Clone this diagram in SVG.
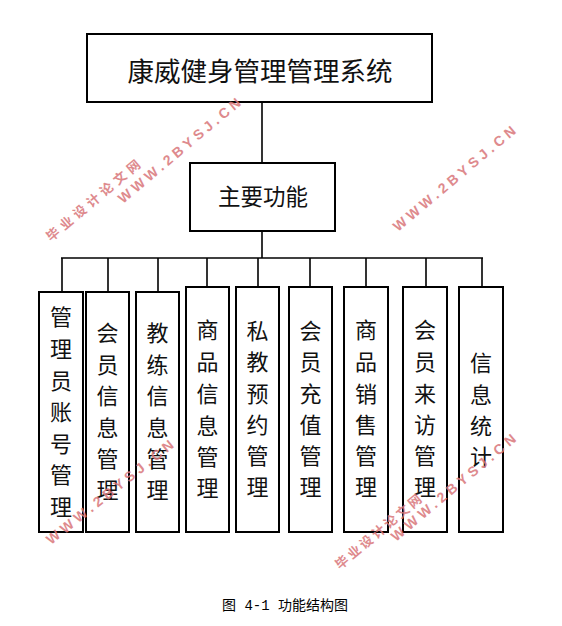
<svg xmlns="http://www.w3.org/2000/svg" width="562" height="626" viewBox="0 0 562 626">
<style>
.box{fill:#fff;stroke:#000;stroke-width:2}
.ln{stroke:#000;stroke-width:1.6;fill:none}
.t{font-family:"Noto Sans CJK SC","Liberation Sans",sans-serif;fill:#111}
.v{font-family:"Noto Sans CJK SC",sans-serif;font-size:22px;fill:#111;text-anchor:middle}
.wm{font-family:"Liberation Sans","Noto Sans CJK SC",sans-serif;font-weight:bold;fill:#d9767a;opacity:0.85}
</style>
<rect width="562" height="626" fill="#fff"/>
<g id="connectors">
<line class="ln" x1="262" y1="102" x2="262" y2="163"/>
<line class="ln" x1="262" y1="231" x2="262" y2="258" stroke-width="2"/>
<line class="ln" x1="61" y1="258" x2="483" y2="258" stroke-width="2"/>
<line class="ln" x1="62" y1="258" x2="62" y2="292"/>
<line class="ln" x1="108" y1="258" x2="108" y2="292"/>
<line class="ln" x1="158" y1="258" x2="158" y2="292"/>
<line class="ln" x1="207" y1="258" x2="207" y2="287"/>
<line class="ln" x1="258" y1="258" x2="258" y2="287"/>
<line class="ln" x1="310" y1="258" x2="310" y2="287"/>
<line class="ln" x1="366" y1="258" x2="366" y2="287"/>
<line class="ln" x1="426" y1="258" x2="426" y2="287"/>
<line class="ln" x1="482" y1="258" x2="482" y2="287"/>
</g>
<g id="root">
<rect class="box" x="87" y="34" width="345" height="68"/>
<text class="t" x="260" y="81" font-size="26.5" text-anchor="middle">康威健身管理管理系统</text>
</g>
<g id="main">
<rect class="box" x="190" y="163" width="145" height="68"/>
<text class="t" x="263" y="205" font-size="22.5" text-anchor="middle">主要功能</text>
</g>
<g id="n1">
<rect class="box" x="39" y="292" width="44" height="240"/>
<text class="v"><tspan x="61" y="325">管</tspan><tspan x="61" y="357">理</tspan><tspan x="61" y="389">员</tspan><tspan x="61" y="420">账</tspan><tspan x="61" y="452">号</tspan><tspan x="61" y="483">管</tspan><tspan x="61" y="515">理</tspan></text>
</g>
<g id="n2">
<rect class="box" x="86" y="292" width="43" height="240"/>
<text class="v"><tspan x="107.5" y="341">会</tspan><tspan x="107.5" y="373">员</tspan><tspan x="107.5" y="404">信</tspan><tspan x="107.5" y="436">息</tspan><tspan x="107.5" y="467">管</tspan><tspan x="107.5" y="498">理</tspan></text>
</g>
<g id="n3">
<rect class="box" x="136" y="292" width="43" height="240"/>
<text class="v"><tspan x="157.5" y="341">教</tspan><tspan x="157.5" y="373">练</tspan><tspan x="157.5" y="404">信</tspan><tspan x="157.5" y="436">息</tspan><tspan x="157.5" y="467">管</tspan><tspan x="157.5" y="498">理</tspan></text>
</g>
<g id="n4">
<rect class="box" x="186" y="287" width="43" height="245"/>
<text class="v"><tspan x="207.5" y="338">商</tspan><tspan x="207.5" y="370">品</tspan><tspan x="207.5" y="402">信</tspan><tspan x="207.5" y="434">息</tspan><tspan x="207.5" y="465">管</tspan><tspan x="207.5" y="496">理</tspan></text>
</g>
<g id="n5">
<rect class="box" x="236" y="287" width="43" height="245"/>
<text class="v"><tspan x="257.5" y="339">私</tspan><tspan x="257.5" y="370">教</tspan><tspan x="257.5" y="402">预</tspan><tspan x="257.5" y="433">约</tspan><tspan x="257.5" y="464">管</tspan><tspan x="257.5" y="495">理</tspan></text>
</g>
<g id="n6">
<rect class="box" x="289" y="287" width="43" height="245"/>
<text class="v"><tspan x="310.5" y="339">会</tspan><tspan x="310.5" y="370">员</tspan><tspan x="310.5" y="402">充</tspan><tspan x="310.5" y="433">值</tspan><tspan x="310.5" y="464">管</tspan><tspan x="310.5" y="495">理</tspan></text>
</g>
<g id="n7">
<rect class="box" x="344" y="287" width="44" height="245"/>
<text class="v"><tspan x="366" y="338">商</tspan><tspan x="366" y="370">品</tspan><tspan x="366" y="402">销</tspan><tspan x="366" y="433">售</tspan><tspan x="366" y="464">管</tspan><tspan x="366" y="495">理</tspan></text>
</g>
<g id="n8">
<rect class="box" x="403" y="287" width="44" height="245"/>
<text class="v"><tspan x="425" y="338">会</tspan><tspan x="425" y="370">员</tspan><tspan x="425" y="402">来</tspan><tspan x="425" y="433">访</tspan><tspan x="425" y="464">管</tspan><tspan x="425" y="495">理</tspan></text>
</g>
<g id="n9">
<rect class="box" x="459" y="287" width="44" height="245"/>
<text class="v"><tspan x="481" y="371">信</tspan><tspan x="481" y="403">息</tspan><tspan x="481" y="434">统</tspan><tspan x="481" y="465">计</tspan></text>
</g>
<g id="caption">
<text x="222" y="610" font-family="'Liberation Mono','Noto Sans CJK SC',monospace" font-size="14" fill="#000">图 4-1 功能结构图</text>
</g>
<g id="watermarks">
<text class="wm" font-size="13" transform="translate(51,242) rotate(-40)" textLength="118">毕业设计论文网</text>
<text class="wm" font-size="14" transform="translate(123,204) rotate(-40)" textLength="155">WWW.2BYSJ.CN</text>
<text class="wm" font-size="14" transform="translate(398,232) rotate(-40)" textLength="155">WWW.2BYSJ.CN</text>
<text class="wm" font-size="14" transform="translate(51,545) rotate(-38.5)" textLength="158">WWW.2BYSJ.CN</text>
<text class="wm" font-size="13" transform="translate(340,570) rotate(-40)" textLength="108">毕业设计论文网</text>
<text class="wm" font-size="14" transform="translate(396,542) rotate(-40)" textLength="158">WWW.2BYSJ.CN</text>
</g>
</svg>
